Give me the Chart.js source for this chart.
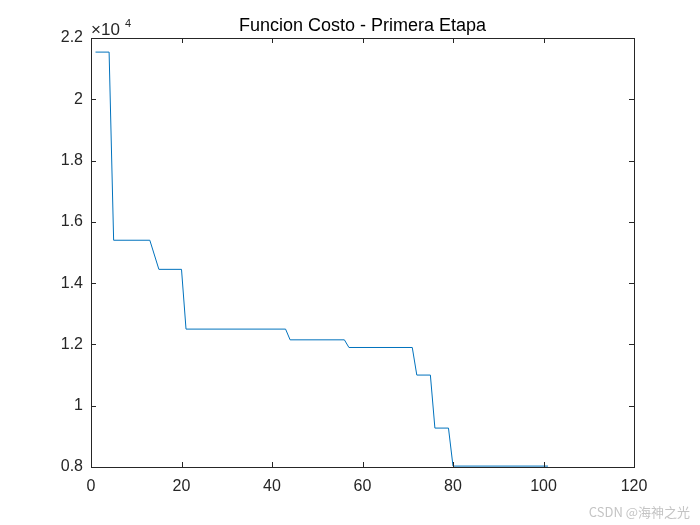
<!DOCTYPE html>
<html>
<head>
<meta charset="utf-8">
<script src="https://cdn.jsdelivr.net/npm/chart.js@4"></script>
<style>
  html, body { margin: 0; padding: 0; background: #fff; }
  #wrap { width: 700px; height: 525px; position: relative; }
</style>
</head>
<body>
<div id="wrap"><canvas id="c" width="700" height="525"></canvas></div>
<script>
// iteration where the cost changes, and the cost value there
const iterations = [1, 4, 5, 13, 15, 20, 21, 43, 44, 56, 57, 71, 72, 75, 76, 79, 80, 101];
const costValues = [21540, 21540, 15400, 15400, 14450, 14450, 12500, 12500, 12150, 12150, 11900, 11900, 11000, 11000, 9270, 9270, 8030, 8030];
const xTicks = [0, 20, 40, 60, 80, 100, 120];
const yTicks = [8000, 10000, 12000, 14000, 16000, 18000, 20000, 22000];

const axisColor = '#262626';
const fontFamily = 'Liberation Sans, Arial, sans-serif';

// box, inward ticks, title, exponent label and watermark, MATLAB style
const matlabAxes = {
  id: 'matlabAxes',
  afterDraw(chart) {
    const ctx = chart.ctx;
    const a = chart.chartArea;
    const xs = chart.scales.x, ys = chart.scales.y;
    ctx.save();
    ctx.strokeStyle = axisColor;
    ctx.lineWidth = 1;
    ctx.strokeRect(Math.round(a.left) + 0.5, Math.round(a.top) + 0.5,
      Math.round(a.right - a.left), Math.round(a.bottom - a.top));
    ctx.beginPath();
    xTicks.forEach(v => {
      const px = Math.round(xs.getPixelForValue(v)) + 0.5;
      ctx.moveTo(px, a.bottom); ctx.lineTo(px, a.bottom - 5);
      ctx.moveTo(px, a.top); ctx.lineTo(px, a.top + 5);
    });
    yTicks.forEach(v => {
      const py = Math.round(ys.getPixelForValue(v)) + 0.5;
      ctx.moveTo(a.left, py); ctx.lineTo(a.left + 5, py);
      ctx.moveTo(a.right, py); ctx.lineTo(a.right - 5, py);
    });
    ctx.stroke();

    // title
    ctx.fillStyle = '#000';
    ctx.font = '18px ' + fontFamily;
    ctx.textAlign = 'center';
    ctx.textBaseline = 'alphabetic';
    ctx.fillText('Funcion Costo - Primera Etapa', (a.left + a.right) / 2, 31);

    // x10^4 exponent
    ctx.fillStyle = axisColor;
    ctx.textAlign = 'left';
    ctx.font = '17px ' + fontFamily;
    ctx.fillText('\u00d710', 91, 35);
    ctx.font = '11px ' + fontFamily;
    ctx.fillText('4', 125, 27);

    // watermark
    ctx.fillStyle = '#c4c4c4';
    ctx.font = '13px "Noto Sans CJK SC", sans-serif';
    ctx.textAlign = 'right';
    ctx.fillText('CSDN @海神之光', 690, 517);
    ctx.restore();
  }
};

new Chart(document.getElementById('c'), {
  type: 'line',
  data: {
    datasets: [{
      data: iterations.map((it, i) => ({ x: it, y: costValues[i] })),
      borderColor: '#0072BD',
      borderWidth: 1,
      pointRadius: 0,
      tension: 0,
      fill: false
    }]
  },
  options: {
    responsive: false,
    animation: false,
    layout: { padding: { left: 0, top: 38, right: 66, bottom: 0 } },
    plugins: { legend: { display: false }, title: { display: false }, tooltip: { enabled: false } },
    scales: {
      x: {
        type: 'linear',
        min: 0, max: 120,
        afterFit: s => { s.height = 58; },
        afterBuildTicks: s => { s.ticks = xTicks.map(v => ({ value: v })); },
        grid: { display: false, drawTicks: false },
        border: { display: false },
        ticks: { color: axisColor, font: { family: fontFamily, size: 16 }, padding: 10, maxRotation: 0 }
      },
      y: {
        min: 8000, max: 22000,
        afterFit: s => { s.width = 91; },
        afterBuildTicks: s => { s.ticks = yTicks.map(v => ({ value: v })); },
        grid: { display: false, drawTicks: false },
        border: { display: false },
        ticks: {
          color: axisColor, font: { family: fontFamily, size: 16 }, padding: 8,
          callback: v => String(Math.round(v / 1000) / 10)
        }
      }
    }
  },
  plugins: [matlabAxes]
});
</script>
</body>
</html>
